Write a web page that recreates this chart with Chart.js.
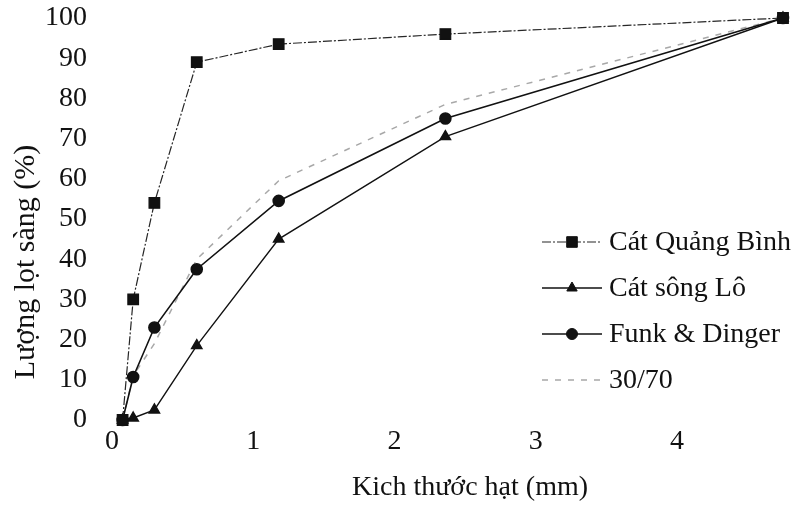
<!DOCTYPE html>
<html>
<head>
<meta charset="utf-8">
<script src="https://cdn.jsdelivr.net/npm/chart.js@4"></script>
<style>
  html, body { margin: 0; padding: 0; background: #fff; }
  #wrap { width: 796px; height: 505px; }
</style>
</head>
<body>
<div id="wrap"><canvas id="chart"></canvas></div>
<script>
// Kích thước lỗ sàng (mm)
const sizes = [0.075, 0.15, 0.3, 0.6, 1.18, 2.36, 4.75];
const xTicks = [0, 1, 2, 3, 4];
const yTicks = [0, 10, 20, 30, 40, 50, 60, 70, 80, 90, 100];

// Lượng lọt sàng (%)
const quangBinh = [0, 30, 54, 89, 93.5, 96, 100];
const songLo = [0, 0.5, 2.5, 18.5, 45, 70.5, 100];
const funkDinger = [0, 10.7, 23, 37.5, 54.5, 75, 100];
const mix3070 = [0, 11, 19, 40, 59.5, 78.5, 100];

const labels = ['Cát Quảng Bình', 'Cát sông Lô', 'Funk & Dinger', '30/70'];
const xTitle = 'Kich thước hạt (mm)';
const yTitle = 'Lượng lọt sàng (%)';

const FONT = '"Liberation Serif", "Times New Roman", serif';

const pts = vals => sizes.map((s, i) => ({ x: s, y: vals[i] }));

// chú thích: đường + điểm đánh dấu + chữ
const legendPlugin = {
  id: 'lineLegend',
  afterDraw(chart) {
    const ctx = chart.ctx;
    ctx.save();
    chart.data.datasets.forEach((ds, i) => {
      const y = 242 + i * 46;
      ctx.beginPath();
      ctx.strokeStyle = ds.borderColor;
      ctx.lineWidth = ds.borderWidth;
      ctx.setLineDash(ds.borderDash || []);
      ctx.moveTo(542, y);
      ctx.lineTo(602, y);
      ctx.stroke();
      ctx.setLineDash([]);
      if (ds.pointRadius > 0) {
        ctx.fillStyle = ds.pointBackgroundColor;
        ctx.strokeStyle = ds.pointBorderColor;
        ctx.lineWidth = 1;
        Chart.helpers.drawPoint(ctx, { pointStyle: ds.pointStyle, radius: ds.pointRadius, borderWidth: 1 }, 572, y);
      }
      ctx.fillStyle = '#111';
      ctx.font = '28px ' + FONT;
      ctx.textAlign = 'left';
      ctx.textBaseline = 'middle';
      ctx.fillText(ds.label, 609, y + 1);
    });

    // tiêu đề trục
    ctx.fillStyle = '#111';
    ctx.font = '28px ' + FONT;
    ctx.textAlign = 'center';
    ctx.textBaseline = 'middle';
    ctx.fillText(xTitle, 470, 488);
    ctx.font = '30px ' + FONT;
    ctx.translate(26, 262);
    ctx.rotate(-Math.PI / 2);
    ctx.fillText(yTitle, 0, 0);
    ctx.restore();
  }
};

new Chart(document.getElementById('chart'), {
  type: 'line',
  data: {
    datasets: [
      { label: labels[0], data: pts(quangBinh), borderColor: '#262626', borderWidth: 1.2, borderDash: [9, 2, 2, 2],
        pointStyle: 'rect', pointRadius: 7.5, pointBackgroundColor: '#111', pointBorderColor: '#111', clip: false },
      { label: labels[1], data: pts(songLo), borderColor: '#111', borderWidth: 1.4,
        pointStyle: 'triangle', pointRadius: 6, pointBackgroundColor: '#111', pointBorderColor: '#111', clip: false },
      { label: labels[2], data: pts(funkDinger), borderColor: '#111', borderWidth: 1.6,
        pointStyle: 'circle', pointRadius: 5.5, pointBackgroundColor: '#111', pointBorderColor: '#111', clip: false },
      { label: labels[3], data: pts(mix3070), borderColor: '#a8a8a8', borderWidth: 1.5, borderDash: [6, 7],
        pointRadius: 0, pointBackgroundColor: '#a8a8a8', pointBorderColor: '#a8a8a8', clip: false }
    ]
  },
  options: {
    responsive: true,
    maintainAspectRatio: false,
    animation: false,
    layout: { padding: { top: 18, right: 13, bottom: 0, left: 0 } },
    plugins: {
      legend: { display: false },
      tooltip: { enabled: false }
    },
    scales: {
      x: {
        type: 'linear',
        min: 0,
        max: 4.75,
        afterBuildTicks: s => { s.ticks = xTicks.map(v => ({ value: v })); },
        afterFit: s => { s.height = 85; s.paddingLeft = 0; s.paddingRight = 0; },
        grid: { display: false, drawTicks: false },
        border: { display: false },
        ticks: { padding: 5, color: '#111', font: { family: FONT, size: 28 } }
      },
      y: {
        min: 0,
        max: 100,
        afterBuildTicks: s => { s.ticks = yTicks.map(v => ({ value: v })); },
        afterFit: s => { s.width = 112; s.paddingTop = 0; s.paddingBottom = 0; },
        grid: { display: false, drawTicks: false },
        border: { display: false },
        ticks: { padding: 25, color: '#111', font: { family: FONT, size: 28 } }
      }
    }
  },
  plugins: [legendPlugin]
});
</script>
</body>
</html>
